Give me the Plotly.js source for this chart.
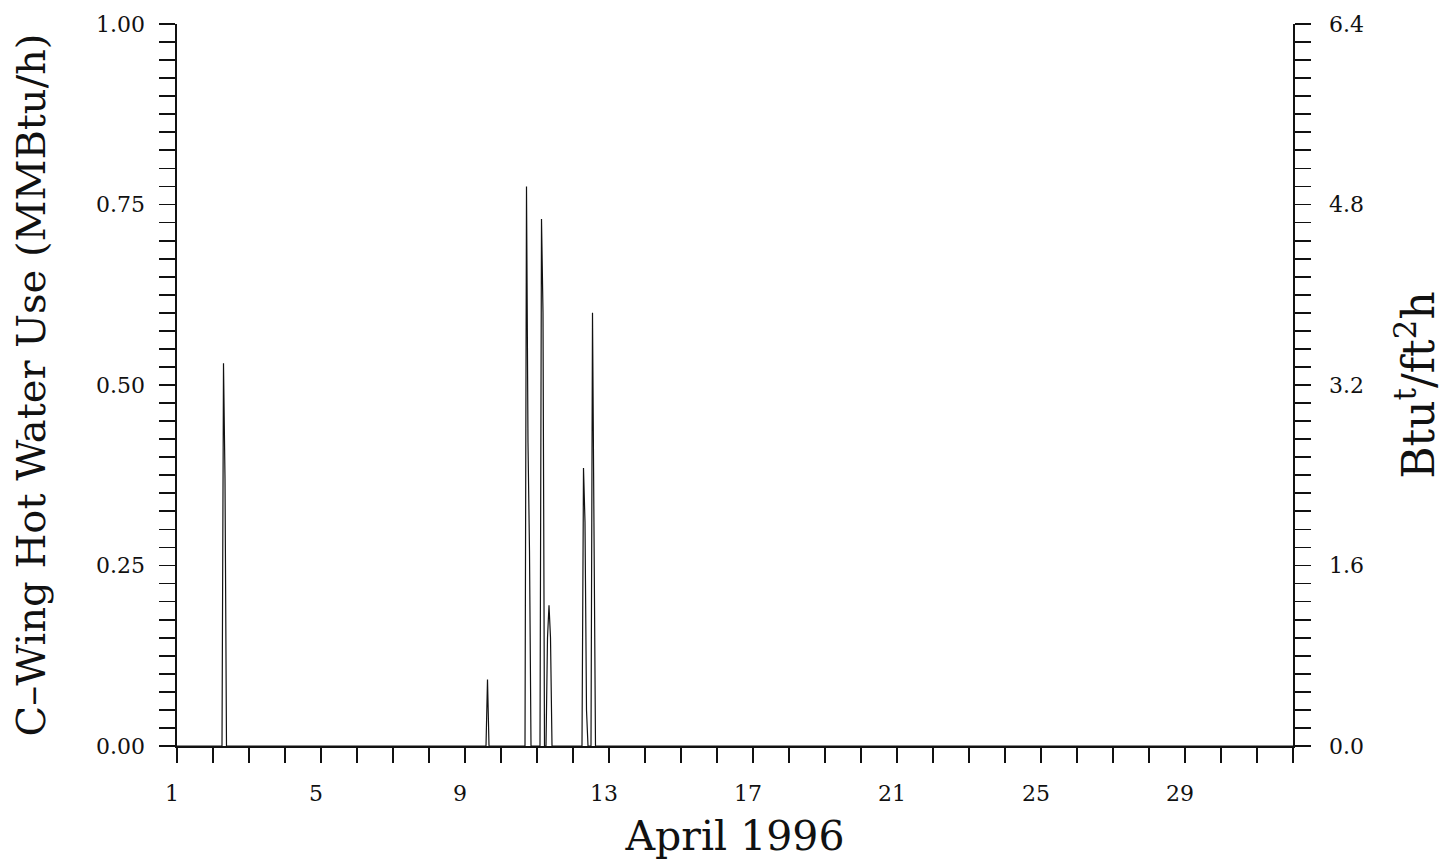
<!DOCTYPE html>
<html>
<head>
<meta charset="utf-8">
<script src="https://cdn.plot.ly/plotly-3.0.1.min.js"></script>
<style>
  html, body { margin: 0; padding: 0; background: #ffffff; }
  #chart { width: 1447px; height: 861px; }
</style>
</head>
<body>
<div id="chart"></div>
<script>
// Hour of the month (0 = April 1, 00:00) and hot water use (MMBtu/h)
const hourIndex = [0, 30, 31, 32, 33, 206, 207, 208, 232, 233, 234, 235, 236,
                   242, 243, 244, 245, 246, 247, 248, 249, 250,
                   270, 271, 272, 273, 274, 276, 277, 278, 279, 744];
const usage     = [0, 0, 0.53, 0.37, 0, 0, 0.092, 0, 0, 0.775, 0.42, 0.27, 0,
                   0, 0.73, 0.60, 0, 0, 0.15, 0.195, 0.15, 0,
                   0, 0.385, 0.31, 0.05, 0, 0, 0.60, 0.21, 0, 0];

const xTickVals = [1, 5, 9, 13, 17, 21, 25, 29];
const yLeftTicks = [0, 0.25, 0.5, 0.75, 1.0];
const yRightTicks = [0, 1.6, 3.2, 4.8, 6.4];

const dayOfMonth = hourIndex.map(h => 1 + h / 24);

const serif = 'DejaVu Serif, Liberation Serif, serif';

const traces = [
  {
    x: dayOfMonth, y: usage, type: 'scatter', mode: 'lines',
    line: { color: '#111111', width: 1.2 },
    xaxis: 'x', yaxis: 'y', hoverinfo: 'x+y', showlegend: false
  },
  {
    x: [], y: [], type: 'scatter', mode: 'lines',
    xaxis: 'x', yaxis: 'y2', showlegend: false, hoverinfo: 'skip'
  }
];

const layout = {
  width: 1447, height: 861,
  paper_bgcolor: '#ffffff', plot_bgcolor: '#ffffff',
  margin: { l: 177, r: 154, t: 24, b: 115, pad: 0 },
  showlegend: false,
  font: { family: serif, color: '#111111', size: 22 },
  xaxis: {
    range: [1, 32], autorange: false,
    tickmode: 'array', tickvals: xTickVals, ticktext: xTickVals.map(String),
    ticks: 'outside', ticklen: 15, tickwidth: 1.8, tickcolor: '#111111',
    minor: { dtick: 1, tick0: 1, ticks: 'outside', ticklen: 15, tickwidth: 1.8, tickcolor: '#111111', showgrid: false },
    showline: true, linecolor: '#111111', linewidth: 1.6,
    showgrid: false, zeroline: false,
    ticklabelstandoff: 12,
    ticklabelshift: -5,
    tickfont: { family: serif, size: 22, color: '#111111' },
    title: { text: 'April 1996', font: { family: serif, size: 41, color: '#111111' }, standoff: 16 },
    automargin: false
  },
  yaxis: {
    range: [0, 1.0], autorange: false,
    tickmode: 'array', tickvals: yLeftTicks, ticktext: yLeftTicks.map(v => v.toFixed(2)),
    ticks: 'outside', ticklen: 16, tickwidth: 1.8, tickcolor: '#111111',
    minor: { dtick: 0.025, tick0: 0, ticks: 'outside', ticklen: 16, tickwidth: 1.8, tickcolor: '#111111', showgrid: false },
    showline: true, linecolor: '#111111', linewidth: 1.6,
    showgrid: false, zeroline: false,
    ticklabelstandoff: 10,
    tickfont: { family: serif, size: 22, color: '#111111' },
    title: { text: 'C–Wing Hot Water Use (MMBtu/h)', font: { family: serif, size: 40, color: '#111111' }, standoff: 38 },
    automargin: false
  },
  yaxis2: {
    overlaying: 'y', side: 'right', anchor: 'x',
    range: [0, 6.4], autorange: false,
    tickmode: 'array', tickvals: yRightTicks, ticktext: yRightTicks.map(v => v.toFixed(1)),
    ticks: 'outside', ticklen: 16, tickwidth: 1.8, tickcolor: '#111111',
    minor: { dtick: 0.16, tick0: 0, ticks: 'outside', ticklen: 16, tickwidth: 1.8, tickcolor: '#111111', showgrid: false },
    showline: true, linecolor: '#111111', linewidth: 1.6,
    showgrid: false, zeroline: false,
    ticklabelstandoff: 14,
    tickfont: { family: serif, size: 22, color: '#111111' },
    title: { text: 'Btu<sup>t</sup>/ft<sup>2</sup>h', font: { family: serif, size: 44, color: '#111111' }, standoff: 40 },
    automargin: false
  }
};

Plotly.newPlot('chart', traces, layout, { staticPlot: true, displayModeBar: false });
</script>
</body>
</html>
